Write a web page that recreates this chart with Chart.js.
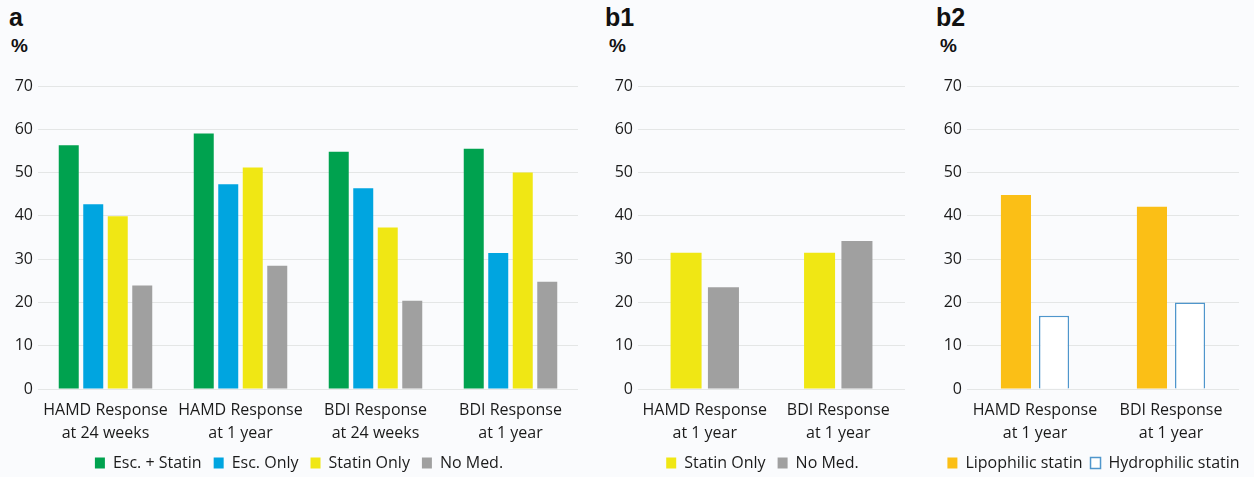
<!DOCTYPE html>
<html>
<head>
<meta charset="utf-8">
<script src="https://cdn.jsdelivr.net/npm/chart.js@4/dist/chart.umd.min.js"></script>
<style>
  html, body { margin:0; padding:0; background:#fafbfd; }
  body { width:1254px; height:477px; position:relative; overflow:hidden; font-family:"Open Sans", "Noto Sans", sans-serif; }
  .panel { position:absolute; top:0; height:481px; }
  .lbl { position:absolute; font-family:"Liberation Sans", Arial, sans-serif; font-weight:bold; color:#111; }
  .ttl { font-size:25px; top:3px; }
  .pct { font-size:19px; top:35px; }
</style>
</head>
<body>
<div class="lbl ttl" style="left:9px">a</div>
<div class="lbl pct" style="left:11px">%</div>
<div class="lbl ttl" style="left:605px">b1</div>
<div class="lbl pct" style="left:609px">%</div>
<div class="lbl ttl" style="left:936px">b2</div>
<div class="lbl pct" style="left:940px">%</div>

<div class="panel" style="left:0px;width:592px"><canvas id="ca" width="592" height="481"></canvas></div>
<div class="panel" style="left:598px;width:322px"><canvas id="cb1" width="322" height="481"></canvas></div>
<div class="panel" style="left:920px;width:334px"><canvas id="cb2" width="334" height="481"></canvas></div>

<script>
// ---- Data ----
const categoriesA = [["HAMD Response", "at 24 weeks"], ["HAMD Response", "at 1 year"], ["BDI Response", "at 24 weeks"], ["BDI Response", "at 1 year"]];
const escStatin = [56.3, 59.0, 54.8, 55.5];
const escOnly = [42.7, 47.3, 46.4, 31.4];
const statinOnlyA = [39.9, 51.2, 37.3, 50.0];
const noMedA = [23.9, 28.5, 20.4, 24.8];

const categoriesB = [["HAMD Response", "at 1 year"], ["BDI Response", "at 1 year"]];
const statinOnlyB1 = [31.5, 31.5];
const noMedB1 = [23.5, 34.2];
const lipophilic = [44.8, 42.1];
const hydrophilic = [16.9, 20.0];

const yMin = 0, yMax = 70, yStep = 10;

// ---- Styles ----
const FONT = "'Open Sans', 'Noto Sans', sans-serif";
const TXT = '#1b1b1b';
const GRID = '#e4e6e6';

// shifts the legend horizontally (pure positioning)
const legendShift = {
  id: 'legendShift',
  beforeDraw(chart, args, opts) {
    const lg = chart.legend;
    if (lg && opts && opts.dx && !lg._shifted) {
      lg.left += opts.dx; lg.right += opts.dx; lg._shifted = true;
    }
  }
};

function makeChart(id, labels, datasets, yWidth, padRight, catPct, barPct, legPad, legDx) {
  return new Chart(document.getElementById(id), {
    type: 'bar',
    data: { labels: labels, datasets: datasets },
    plugins: [legendShift],
    options: {
      responsive: false,
      animation: false,
      events: [],
      layout: { padding: { top: 86, right: padRight, left: 0, bottom: 0 } },
      datasets: { bar: { categoryPercentage: catPct, barPercentage: barPct } },
      scales: {
        x: {
          grid: { display: false },
          border: { display: false },
          ticks: { color: TXT, font: { family: FONT, size: 16, lineHeight: 1.45 }, padding: 2, maxRotation: 0, autoSkip: false },
          afterFit: s => { s.height = 66 - legPad; }
        },
        y: {
          min: yMin, max: yMax,
          ticks: { stepSize: yStep, color: TXT, font: { family: FONT, size: 16 }, padding: 5 },
          grid: { color: GRID, lineWidth: 1, drawTicks: false },
          border: { display: false },
          afterFit: s => { s.width = yWidth; }
        }
      },
      plugins: {
        legend: {
          position: 'bottom',
          labels: { color: TXT, font: { family: FONT, size: 16 }, boxWidth: 10, boxHeight: 11, padding: legPad }
        },
        legendShift: { dx: legDx },
        tooltip: { enabled: false }
      }
    }
  });
}

makeChart('ca', categoriesA, [
  { label: 'Esc. + Statin', data: escStatin, backgroundColor: '#00a24f', borderWidth: 0 },
  { label: 'Esc. Only', data: escOnly, backgroundColor: '#00a5e0', borderWidth: 0 },
  { label: 'Statin Only', data: statinOnlyA, backgroundColor: '#f0e714', borderWidth: 0 },
  { label: 'No Med.', data: noMedA, backgroundColor: '#a0a0a0', borderWidth: 0 }
], 38, 14, 0.726, 0.816, 12, 10);

makeChart('cb1', categoriesB, [
  { label: 'Statin Only', data: statinOnlyB1, backgroundColor: '#f0e714', borderWidth: 0 },
  { label: 'No Med.', data: noMedB1, backgroundColor: '#a0a0a0', borderWidth: 0 }
], 40, 15, 0.56, 0.83, 12, 11);

makeChart('cb2', categoriesB, [
  { label: 'Lipophilic statin', data: lipophilic, backgroundColor: '#fbbf16', borderWidth: 0 },
  { label: 'Hydrophilic statin', data: hydrophilic, backgroundColor: '#ffffff', borderColor: '#4f96cc', borderWidth: 1.5 }
], 47, 15, 0.56, 0.79, 8, 14);
</script>
</body>
</html>
